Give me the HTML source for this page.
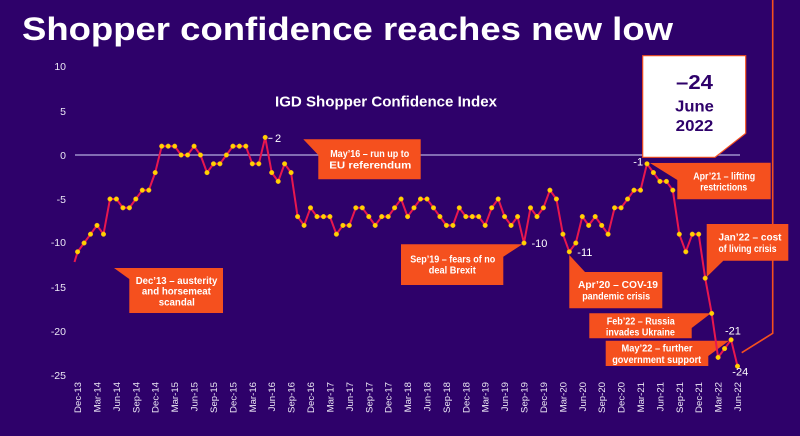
<!DOCTYPE html>
<html><head><meta charset="utf-8"><style>
html,body{margin:0;padding:0;background:#2E016A;}
svg{display:block;}
text{font-family:"Liberation Sans",sans-serif;}
</style></head><body>
<svg width="800" height="436" viewBox="0 0 800 436" xmlns="http://www.w3.org/2000/svg">
<rect x="0" y="0" width="800" height="436" fill="#2E016A"/>
<text x="22" y="40" font-size="32" font-weight="bold" fill="#ffffff" textLength="651" lengthAdjust="spacingAndGlyphs">Shopper confidence reaches new low</text>
<text x="275" y="106.7" font-size="15" font-weight="bold" fill="#ffffff" textLength="222" lengthAdjust="spacingAndGlyphs">IGD Shopper Confidence Index</text>

<g font-size="10.5" fill="#ECE8F5" text-anchor="end">
<text x="66" y="70">10</text>
<text x="66" y="115">5</text>
<text x="66" y="159">0</text>
<text x="66" y="203">-5</text>
<text x="66" y="246">-10</text>
<text x="66" y="291">-15</text>
<text x="66" y="335">-20</text>
<text x="66" y="379">-25</text>
</g>

<line x1="75" y1="155" x2="740" y2="155" stroke="#9D8FCB" stroke-width="1.5"/>
<polyline points="772.7,0 772.7,333.3 741.7,352.7" fill="none" stroke="#F5501E" stroke-width="1.6"/>

<g fill="#F5501E">
<polygon points="114,268 223,268 223,313 129.3,313 129.3,279"/>
<polygon points="303.3,139.3 420.7,139.3 420.7,179.3 318.3,179.3 318.3,155"/>
<polygon points="401,244.3 522.5,244.3 503.3,256.7 503.3,285 401,285"/>
<polygon points="569.3,255 585,272 662.3,272 662.3,308.3 569.3,308.3"/>
<polygon points="589.3,313.3 711,313.3 691.7,328 691.7,338.3 589.3,338.3"/>
<polygon points="605.7,340.7 729,340.7 708.3,356 708.3,366 605.7,366"/>
<polygon points="650,163 770.7,162.7 770.7,199.3 677.3,199.3 677.3,180"/>
<polygon points="706.7,224 788.3,224 788.3,260.7 723.3,260.7 706.7,277"/>
</g>

<g font-size="10.5" font-weight="bold" fill="#ffffff" text-anchor="middle">
<text x="176.5" y="283.8" textLength="81.6" lengthAdjust="spacingAndGlyphs">Dec’13 – austerity</text>
<text x="176.4" y="294.6" textLength="69" lengthAdjust="spacingAndGlyphs">and horsemeat</text>
<text x="176.8" y="305.5" textLength="36" lengthAdjust="spacingAndGlyphs">scandal</text>
<text x="369.7" y="157" textLength="79" lengthAdjust="spacingAndGlyphs">May’16 – run up to</text>
<text x="370.3" y="168.4" textLength="82" lengthAdjust="spacingAndGlyphs">EU referendum</text>
<text x="452.7" y="262.7" textLength="85" lengthAdjust="spacingAndGlyphs">Sep’19 – fears of no</text>
<text x="452.3" y="273.7" textLength="47" lengthAdjust="spacingAndGlyphs">deal Brexit</text>
<text x="618" y="288" textLength="80" lengthAdjust="spacingAndGlyphs">Apr’20 – COV-19</text>
<text x="616.2" y="299.4" textLength="68" lengthAdjust="spacingAndGlyphs">pandemic crisis</text>
<text x="640.8" y="324.7" textLength="68" lengthAdjust="spacingAndGlyphs">Feb’22 – Russia</text>
<text x="640.4" y="335.4" textLength="69" lengthAdjust="spacingAndGlyphs">invades Ukraine</text>
<text x="657" y="351.4" textLength="71" lengthAdjust="spacingAndGlyphs">May’22 – further</text>
<text x="656.7" y="363" textLength="89" lengthAdjust="spacingAndGlyphs">government support</text>
<text x="724.2" y="179.4" textLength="62" lengthAdjust="spacingAndGlyphs">Apr’21 – lifting</text>
<text x="723.7" y="190.4" textLength="47" lengthAdjust="spacingAndGlyphs">restrictions</text>
<text x="750" y="240.4" textLength="63" lengthAdjust="spacingAndGlyphs">Jan’22 – cost</text>
<text x="747.5" y="252" textLength="58" lengthAdjust="spacingAndGlyphs">of living crisis</text>
</g>

<polygon points="642.7,55.7 745.7,55.7 745.7,133.3 715,157.3 642.7,157.3" fill="#ffffff" stroke="#F5501E" stroke-width="1.2"/>
<g font-weight="bold" fill="#2E016A" text-anchor="middle">
<text x="694.5" y="89" font-size="20" textLength="37" lengthAdjust="spacingAndGlyphs">–24</text>
<text x="694.5" y="111.5" font-size="15.5" textLength="38.7" lengthAdjust="spacingAndGlyphs">June</text>
<text x="694.5" y="131" font-size="16" textLength="37.6" lengthAdjust="spacingAndGlyphs">2022</text>
</g>

<line x1="74.5" y1="262" x2="77.6" y2="251.8" stroke="#E8174F" stroke-width="2"/>
<polyline fill="none" stroke="#E8174F" stroke-width="2" stroke-linejoin="round" points="77.6,251.8 84.1,243 90.5,234.2 97,225.4 103.5,234.2 110,199 116.4,199 122.9,207.8 129.4,207.8 135.8,199 142.3,190.2 148.8,190.2 155.2,172.6 161.7,146.2 168.2,146.2 174.7,146.2 181.1,155 187.6,155 194.1,146.2 200.5,155 207,172.6 213.5,163.8 219.9,163.8 226.4,155 232.9,146.2 239.4,146.2 245.8,146.2 252.3,163.8 258.8,163.8 265.2,137.4 271.7,172.6 278.2,181.4 284.6,163.8 291.1,172.6 297.6,216.6 304.1,225.4 310.5,207.8 317,216.6 323.5,216.6 329.9,216.6 336.4,234.2 342.9,225.4 349.3,225.4 355.8,207.8 362.3,207.8 368.8,216.6 375.2,225.4 381.7,216.6 388.2,216.6 394.6,207.8 401.1,199 407.6,216.6 414,207.8 420.5,199 427,199 433.5,207.8 439.9,216.6 446.4,225.4 452.9,225.4 459.3,207.8 465.8,216.6 472.3,216.6 478.7,216.6 485.2,225.4 491.7,207.8 498.2,199 504.6,216.6 511.1,225.4 517.6,216.6 524,243 530.5,207.8 537,216.6 543.4,207.8 549.9,190.2 556.4,199 562.9,234.2 569.3,251.8 575.8,243 582.3,216.6 588.7,225.4 595.2,216.6 601.7,225.4 608.1,234.2 614.6,207.8 621.1,207.8 627.6,199 634,190.2 640.5,190.2 647,163.8 653.4,172.6 659.9,181.4 666.4,181.4 672.8,190.2 679.3,234.2 685.8,251.8 692.3,234.2 698.7,234.2 705.2,278.2 711.7,313.4 718.1,357.4 724.6,348.6 731.1,339.8 737.5,366.2"/>

<g fill="#FFD400" stroke="#F7A21B" stroke-width="0.5">
<circle cx="77.6" cy="251.8" r="2.3"/><circle cx="84.1" cy="243" r="2.3"/><circle cx="90.5" cy="234.2" r="2.3"/><circle cx="97" cy="225.4" r="2.3"/><circle cx="103.5" cy="234.2" r="2.3"/><circle cx="110" cy="199" r="2.3"/><circle cx="116.4" cy="199" r="2.3"/><circle cx="122.9" cy="207.8" r="2.3"/><circle cx="129.4" cy="207.8" r="2.3"/><circle cx="135.8" cy="199" r="2.3"/><circle cx="142.3" cy="190.2" r="2.3"/><circle cx="148.8" cy="190.2" r="2.3"/><circle cx="155.2" cy="172.6" r="2.3"/><circle cx="161.7" cy="146.2" r="2.3"/><circle cx="168.2" cy="146.2" r="2.3"/><circle cx="174.7" cy="146.2" r="2.3"/><circle cx="181.1" cy="155" r="2.3"/><circle cx="187.6" cy="155" r="2.3"/><circle cx="194.1" cy="146.2" r="2.3"/><circle cx="200.5" cy="155" r="2.3"/><circle cx="207" cy="172.6" r="2.3"/><circle cx="213.5" cy="163.8" r="2.3"/><circle cx="219.9" cy="163.8" r="2.3"/><circle cx="226.4" cy="155" r="2.3"/><circle cx="232.9" cy="146.2" r="2.3"/><circle cx="239.4" cy="146.2" r="2.3"/><circle cx="245.8" cy="146.2" r="2.3"/><circle cx="252.3" cy="163.8" r="2.3"/><circle cx="258.8" cy="163.8" r="2.3"/><circle cx="265.2" cy="137.4" r="2.3"/><circle cx="271.7" cy="172.6" r="2.3"/><circle cx="278.2" cy="181.4" r="2.3"/><circle cx="284.6" cy="163.8" r="2.3"/><circle cx="291.1" cy="172.6" r="2.3"/><circle cx="297.6" cy="216.6" r="2.3"/><circle cx="304.1" cy="225.4" r="2.3"/><circle cx="310.5" cy="207.8" r="2.3"/><circle cx="317" cy="216.6" r="2.3"/><circle cx="323.5" cy="216.6" r="2.3"/><circle cx="329.9" cy="216.6" r="2.3"/><circle cx="336.4" cy="234.2" r="2.3"/><circle cx="342.9" cy="225.4" r="2.3"/><circle cx="349.3" cy="225.4" r="2.3"/><circle cx="355.8" cy="207.8" r="2.3"/><circle cx="362.3" cy="207.8" r="2.3"/><circle cx="368.8" cy="216.6" r="2.3"/><circle cx="375.2" cy="225.4" r="2.3"/><circle cx="381.7" cy="216.6" r="2.3"/><circle cx="388.2" cy="216.6" r="2.3"/><circle cx="394.6" cy="207.8" r="2.3"/><circle cx="401.1" cy="199" r="2.3"/><circle cx="407.6" cy="216.6" r="2.3"/><circle cx="414" cy="207.8" r="2.3"/><circle cx="420.5" cy="199" r="2.3"/><circle cx="427" cy="199" r="2.3"/><circle cx="433.5" cy="207.8" r="2.3"/><circle cx="439.9" cy="216.6" r="2.3"/><circle cx="446.4" cy="225.4" r="2.3"/><circle cx="452.9" cy="225.4" r="2.3"/><circle cx="459.3" cy="207.8" r="2.3"/><circle cx="465.8" cy="216.6" r="2.3"/><circle cx="472.3" cy="216.6" r="2.3"/><circle cx="478.7" cy="216.6" r="2.3"/><circle cx="485.2" cy="225.4" r="2.3"/><circle cx="491.7" cy="207.8" r="2.3"/><circle cx="498.2" cy="199" r="2.3"/><circle cx="504.6" cy="216.6" r="2.3"/><circle cx="511.1" cy="225.4" r="2.3"/><circle cx="517.6" cy="216.6" r="2.3"/><circle cx="524" cy="243" r="2.3"/><circle cx="530.5" cy="207.8" r="2.3"/><circle cx="537" cy="216.6" r="2.3"/><circle cx="543.4" cy="207.8" r="2.3"/><circle cx="549.9" cy="190.2" r="2.3"/><circle cx="556.4" cy="199" r="2.3"/><circle cx="562.9" cy="234.2" r="2.3"/><circle cx="569.3" cy="251.8" r="2.3"/><circle cx="575.8" cy="243" r="2.3"/><circle cx="582.3" cy="216.6" r="2.3"/><circle cx="588.7" cy="225.4" r="2.3"/><circle cx="595.2" cy="216.6" r="2.3"/><circle cx="601.7" cy="225.4" r="2.3"/><circle cx="608.1" cy="234.2" r="2.3"/><circle cx="614.6" cy="207.8" r="2.3"/><circle cx="621.1" cy="207.8" r="2.3"/><circle cx="627.6" cy="199" r="2.3"/><circle cx="634" cy="190.2" r="2.3"/><circle cx="640.5" cy="190.2" r="2.3"/><circle cx="647" cy="163.8" r="2.3"/><circle cx="653.4" cy="172.6" r="2.3"/><circle cx="659.9" cy="181.4" r="2.3"/><circle cx="666.4" cy="181.4" r="2.3"/><circle cx="672.8" cy="190.2" r="2.3"/><circle cx="679.3" cy="234.2" r="2.3"/><circle cx="685.8" cy="251.8" r="2.3"/><circle cx="692.3" cy="234.2" r="2.3"/><circle cx="698.7" cy="234.2" r="2.3"/><circle cx="705.2" cy="278.2" r="2.3"/><circle cx="711.7" cy="313.4" r="2.3"/><circle cx="718.1" cy="357.4" r="2.3"/><circle cx="724.6" cy="348.6" r="2.3"/><circle cx="731.1" cy="339.8" r="2.3"/><circle cx="737.5" cy="366.2" r="2.3"/>
</g>

<line x1="268.3" y1="138.3" x2="272.5" y2="138.3" stroke="#ECE8F5" stroke-width="1"/>
<g font-size="11" fill="#ffffff">
<text x="275" y="142">2</text>
<text x="531.5" y="247">-10</text>
<text x="577.3" y="256">-11</text>
<text x="633.3" y="165.5">-1</text>
<text x="725" y="334.5">-21</text>
<text x="732.3" y="375.5">-24</text>
</g>

<g font-size="9.6" fill="#ECE8F5" text-anchor="end">
<text transform="translate(81.1,382) rotate(-90)">Dec-13</text>
<text transform="translate(100.5,382) rotate(-90)">Mar-14</text>
<text transform="translate(119.9,382) rotate(-90)">Jun-14</text>
<text transform="translate(139.3,382) rotate(-90)">Sep-14</text>
<text transform="translate(158.7,382) rotate(-90)">Dec-14</text>
<text transform="translate(178.2,382) rotate(-90)">Mar-15</text>
<text transform="translate(197.6,382) rotate(-90)">Jun-15</text>
<text transform="translate(217,382) rotate(-90)">Sep-15</text>
<text transform="translate(236.4,382) rotate(-90)">Dec-15</text>
<text transform="translate(255.8,382) rotate(-90)">Mar-16</text>
<text transform="translate(275.2,382) rotate(-90)">Jun-16</text>
<text transform="translate(294.6,382) rotate(-90)">Sep-16</text>
<text transform="translate(314,382) rotate(-90)">Dec-16</text>
<text transform="translate(333.4,382) rotate(-90)">Mar-17</text>
<text transform="translate(352.8,382) rotate(-90)">Jun-17</text>
<text transform="translate(372.3,382) rotate(-90)">Sep-17</text>
<text transform="translate(391.7,382) rotate(-90)">Dec-17</text>
<text transform="translate(411.1,382) rotate(-90)">Mar-18</text>
<text transform="translate(430.5,382) rotate(-90)">Jun-18</text>
<text transform="translate(449.9,382) rotate(-90)">Sep-18</text>
<text transform="translate(469.3,382) rotate(-90)">Dec-18</text>
<text transform="translate(488.7,382) rotate(-90)">Mar-19</text>
<text transform="translate(508.1,382) rotate(-90)">Jun-19</text>
<text transform="translate(527.5,382) rotate(-90)">Sep-19</text>
<text transform="translate(546.9,382) rotate(-90)">Dec-19</text>
<text transform="translate(566.4,382) rotate(-90)">Mar-20</text>
<text transform="translate(585.8,382) rotate(-90)">Jun-20</text>
<text transform="translate(605.2,382) rotate(-90)">Sep-20</text>
<text transform="translate(624.6,382) rotate(-90)">Dec-20</text>
<text transform="translate(644,382) rotate(-90)">Mar-21</text>
<text transform="translate(663.4,382) rotate(-90)">Jun-21</text>
<text transform="translate(682.8,382) rotate(-90)">Sep-21</text>
<text transform="translate(702.2,382) rotate(-90)">Dec-21</text>
<text transform="translate(721.6,382) rotate(-90)">Mar-22</text>
<text transform="translate(741,382) rotate(-90)">Jun-22</text>
</g>
</svg>
</body></html>
